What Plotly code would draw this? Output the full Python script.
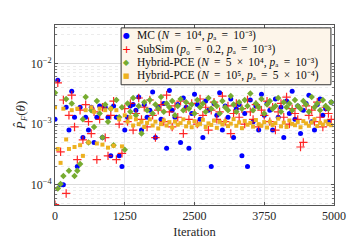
import plotly.graph_objects as go

iterations = list(range(0, 5000, 50))

# MC estimates, in units of 1e-4 (k / N with N = 1e4)
mc_k = [12, 53, 1, 1, 19, 8, 35, 13, 2, 19, 6, 13, 8, 19, 5, 13, 20, 6, 19, 13,
        3, 20, 13, 3, 2, 8, 13, 20, 21, 17, 28, 8, 21, 13, 17, 34, 6, 19, 12, 22,
        4, 36, 17, 13, 21, 5, 27, 19, 4, 15, 31, 21, 12, 6, 24, 17, 2, 22, 14, 33,
        8, 20, 13, 26, 6, 18, 21, 3, 15, 2, 25, 11, 20, 8, 31, 14, 22, 17, 8, 26,
        13, 19, 6, 24, 15, 35, 12, 20, 7, 17, 22, 30, 11, 8, 21, 26, 14, 18, 11, 23]

# SubSim estimates, units of 1e-4
subsim = [0.47, 48, 3.5, 25, 0.72, 14, 30, 9, 2.6, 17, 5.5, 21, 11, 7, 16, 2.6, 12, 19, 6, 3,
          14, 24, 2.6, 10, 3.3, 18, 11, 22, 8, 15, 27, 12, 19, 9, 25, 14, 6, 17, 21, 11,
          30, 16, 9, 20, 13, 24, 7, 18, 12, 22, 15, 10, 26, 14, 19, 8, 17, 23, 12, 16,
          29, 11, 20, 7, 15, 22, 13, 18, 10, 25, 16, 12, 21, 9, 17, 14, 24, 11, 19, 8,
          16, 22, 13, 28, 10, 18, 15, 12, 4.2, 5, 20, 14, 17, 11, 23, 13, 9, 19, 15, 12]

# Hybrid-PCE (N = 5e4, pa = 1e-3), units of 1e-4
hyb1 = [33, 0.87, 1.03, 1.4, 26, 1.7, 22, 1.4, 1.7, 2.2, 12, 28, 5, 17, 9, 24, 15, 6, 21, 11,
        18, 4.5, 25, 13, 19, 3.8, 22, 16, 27, 14, 20, 7, 23, 17, 25, 15, 21, 18, 28, 16,
        22, 19, 24, 14, 20, 26, 17, 23, 18, 21, 15, 25, 19, 22, 16, 27, 18, 23, 20, 15,
        24, 19, 17, 29, 21, 16, 23, 18, 25, 20, 32, 17, 22, 19, 26, 15, 21, 24, 18, 20,
        27, 16, 23, 19, 22, 17, 25, 20, 18, 24, 21, 16, 28, 19, 22, 17, 25, 20, 18, 23]

# Hybrid-PCE (N = 1e5, pa = 5e-4), units of 1e-4
hyb2 = [19, 3.9, 2.3, 18, 5.6, 3.9, 17, 4.2, 18, 4.5, 3.0, 17, 5, 19, 16, 4.8, 18, 4.6, 17, 4.1,
        18, 4.4, 17, 12, 4.3, 14, 11, 13, 9.5, 12, 10, 11, 9, 10.5, 12, 9.5, 11, 8.5, 10, 11.5,
        9.5, 10.8, 8.8, 11, 9.8, 10.4, 12, 9.2, 10.6, 8.9, 11.2, 9.6, 10.1, 11.8, 9.0, 10.3, 9.7, 11.4, 8.7, 10.9,
        9.9, 11.1, 9.3, 10.2, 12.1, 9.4, 10.7, 8.6, 11.3, 9.8, 10.5, 9.1, 11.7, 10.0, 9.5, 10.8, 8.8, 11.0, 9.7, 10.4,
        12.3, 9.2, 10.6, 9.0, 11.5, 10.1, 9.6, 10.9, 8.9, 11.2, 10.3, 9.4, 10.7, 12.0, 9.3, 10.5, 9.8, 11.1, 10.0, 9.6]

sp = "\u2009"  # thin space used around operators, LaTeX-like
labels = [
    f"MC (<i>N</i> {sp}={sp} 10⁴, <i>p</i>ₐ {sp}={sp} 10⁻³)",
    f"SubSim (<i>p</i>₀ {sp}={sp} 0.2, <i>p</i>ₐ {sp}={sp} 10⁻³)",
    f"Hybrid-PCE (<i>N</i> {sp}={sp} 5 {sp}×{sp} 10⁴, <i>p</i>ₐ {sp}={sp} 10⁻³)",
    f"Hybrid-PCE (<i>N</i> {sp}={sp} 10⁵, <i>p</i>ₐ {sp}={sp} 5 {sp}×{sp} 10⁻⁴)",
]
colors = ["#0000ff", "#ff0000", "#77ac30", "#edb120"]
legend_symbols = ["●", "+", "◆", "■"]
legend_symbol_sizes = [8, 11, 8, 7]

scale = 1e-4
fig = go.Figure()
fig.add_trace(go.Scatter(x=iterations, y=[k * scale for k in mc_k], mode="markers", name=labels[0],
                         marker=dict(symbol="circle", size=5, color=colors[0])))
fig.add_trace(go.Scatter(x=iterations, y=[v * scale for v in subsim], mode="markers", name=labels[1],
                         marker=dict(symbol="cross-thin", size=6, color="rgba(255,0,0,0.85)",
                                     line=dict(width=1.2, color="rgba(255,0,0,0.85)"))))
fig.add_trace(go.Scatter(x=iterations, y=[v * scale for v in hyb1], mode="markers", name=labels[2],
                         marker=dict(symbol="diamond", size=5, color=colors[2])))
fig.add_trace(go.Scatter(x=iterations, y=[v * scale for v in hyb2], mode="markers", name=labels[3],
                         marker=dict(symbol="square", size=4, color=colors[3])))

font_family = "Liberation Serif, serif"

# legend box (paper coordinates of the plot area)
box_x0, box_x1, box_y0, box_y1 = 0.237, 0.989, 0.668, 0.984
row_y = [0.941, 0.866, 0.791, 0.717]
sym_x, text_x = 0.258, 0.285

annotations = []
for s, c, sz, lab, y in zip(legend_symbols, colors, legend_symbol_sizes, labels, row_y):
    annotations.append(dict(text=s, xref="paper", yref="paper", x=sym_x, y=y,
                            xanchor="center", yanchor="middle", showarrow=False,
                            font=dict(size=sz, color=c, family="DejaVu Sans")))
    annotations.append(dict(text=lab, xref="paper", yref="paper", x=text_x, y=y,
                            xanchor="left", yanchor="middle", showarrow=False,
                            font=dict(size=11.5, family=font_family, color="#111111")))

fig.update_layout(
    width=360, height=240,
    margin=dict(l=47, r=34, t=17, b=36),
    paper_bgcolor="white", plot_bgcolor="white",
    font=dict(family=font_family, size=11, color="#262626"),
    showlegend=False,
    shapes=[dict(type="rect", xref="paper", yref="paper", x0=box_x0, x1=box_x1, y0=box_y0, y1=box_y1,
                 fillcolor="#fdf5ea", line=dict(color="#333333", width=1), layer="above")],
    annotations=annotations,
)
fig.update_xaxes(
    range=[0, 5000], tickvals=[0, 1250, 2500, 3750, 5000],
    showline=True, linecolor="#555555", linewidth=1, mirror="ticks",
    ticks="inside", ticklen=3, tickcolor="#555555",
    showgrid=True, gridcolor="#e6e6e6", gridwidth=1, zeroline=False,
    title=dict(text="Iteration", font=dict(size=12.5), standoff=4),
    tickfont=dict(size=12),
)
fig.update_yaxes(
    type="log", range=[-4.333, -1.365],
    tickvals=[1e-4, 1e-3, 1e-2],
    ticktext=["10<sup>−4</sup>", "10<sup>−3</sup>", "10<sup>−2</sup>"],
    showline=True, linecolor="#555555", linewidth=1, mirror="ticks",
    ticks="inside", ticklen=3, tickcolor="#555555",
    showgrid=True, gridcolor="#dcdcdc", gridwidth=1, zeroline=False,
    minor=dict(tickvals=[m * 10 ** e for e in (-5, -4, -3, -2) for m in range(2, 10)],
               showgrid=True, gridcolor="#ececec", griddash="dot",
               ticks="inside", ticklen=2, tickcolor="#777777"),
    title=dict(text="<i>P̂</i><sub><i>F</i></sub>(<i>θ</i>)", font=dict(size=13), standoff=2),
    tickfont=dict(size=12),
)

fig.write_html("out.html")
